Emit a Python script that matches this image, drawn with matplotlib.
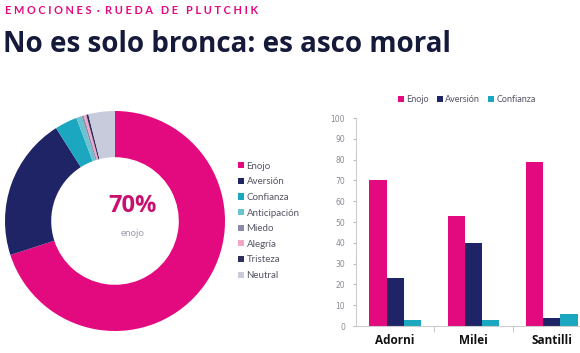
import numpy as np
import matplotlib
matplotlib.use("Agg")
import matplotlib.pyplot as plt
from matplotlib.patches import Patch

# donut data
emociones = ["Enojo", "Aversión", "Confianza", "Anticipación", "Miedo", "Alegría", "Tristeza", "Neutral"]
porcentajes = [70, 21, 3.3, 0.8, 0.3, 0.4, 0.3, 3.9]
colores = ["#E3097E", "#1F2467", "#1AA7BF", "#6BC2D0", "#8C8BAA", "#F2A5C6", "#2C2F5E", "#C8CBDC"]

# bars data
politicos = ["Adorni", "Milei", "Santilli"]
enojo = [70, 53, 79]
aversion = [23, 40, 4]
confianza = [3, 3, 6]

W, H = 580, 353
fig = plt.figure(figsize=(W / 100, H / 100), dpi=100)
fig.patch.set_facecolor("white")

def fx(x):
    return x / W

def fy(y):
    return 1 - y / H

fig.text(fx(5), fy(11), "E M O C I O N E S  ·  R U E D A   D E   P L U T C H I K", color="#E3097E",
         fontsize=7.9, fontweight="bold", family="Lato", va="center", ha="left")
fig.text(fx(3), fy(45), "No es solo bronca: es asco moral", color="#161A3A",
         fontsize=20, fontweight="bold", family="Open Sans", va="center", ha="left")

# donut
ax1 = fig.add_axes([fx(5), fy(331), 220 / W, 220 / H])
wedges, _ = ax1.pie(porcentajes, colors=colores, startangle=90, counterclock=False,
                    wedgeprops=dict(width=0.42, linewidth=0))
ax1.set_xlim(-1, 1)
ax1.set_ylim(-1, 1)
ax1.set_aspect("equal")
fig.text(fx(133), fy(206), "70%", color="#C8106F", fontsize=17, fontweight="bold",
         family="Open Sans", ha="center", va="center")
fig.text(fx(133), fy(234), "enojo", color="#9A9AAA", fontsize=7, family="Lato", ha="center", va="center")

handles = [Patch(facecolor=c, edgecolor="none") for c in colores]
fig.legend(handles, emociones, loc="upper left", bbox_to_anchor=(fx(229), fy(153)), frameon=False,
           handlelength=0.6, handleheight=0.6, handletextpad=0.3, labelspacing=0.68,
           labelcolor="#555566", prop={"family": "Lato", "size": 7})

# bars
ax2 = fig.add_axes([fx(356), fy(326), 235 / W, 208 / H])
x = np.arange(len(politicos))
bw = 0.22
ax2.bar(x - bw, enojo, bw, color=colores[0], label="Enojo")
ax2.bar(x, aversion, bw, color=colores[1], label="Aversión")
ax2.bar(x + bw, confianza, bw, color=colores[2], label="Confianza")
ax2.set_xlim(-0.5, 2.5)
ax2.set_ylim(0, 100)
ax2.set_yticks(range(0, 101, 10))
ax2.tick_params(axis="y", labelsize=5.5, labelcolor="#8A8A96", length=2, color="#BBBBBB", pad=6)
ax2.set_xticks(x)
ax2.set_xticklabels(politicos, fontsize=8.5, fontweight="bold", family="Open Sans", color="#111111")
ax2.tick_params(axis="x", length=0, pad=6)
ax2.set_xticks([0.5, 1.5], minor=True)
ax2.tick_params(axis="x", which="minor", length=4, color="#BBBBBB")
for s in ["top", "right"]:
    ax2.spines[s].set_visible(False)
for s in ["left", "bottom"]:
    ax2.spines[s].set_color("#CCCCCC")
    ax2.spines[s].set_linewidth(0.8)

fig.legend(*ax2.get_legend_handles_labels(), loc="center", bbox_to_anchor=(fx(467), fy(100)), ncol=3,
           frameon=False, handlelength=0.6, handleheight=0.6, handletextpad=0.3, columnspacing=0.9,
           labelcolor="#555566", prop={"family": "Lato", "size": 6.5})

fig.savefig("out.png", dpi=100)
